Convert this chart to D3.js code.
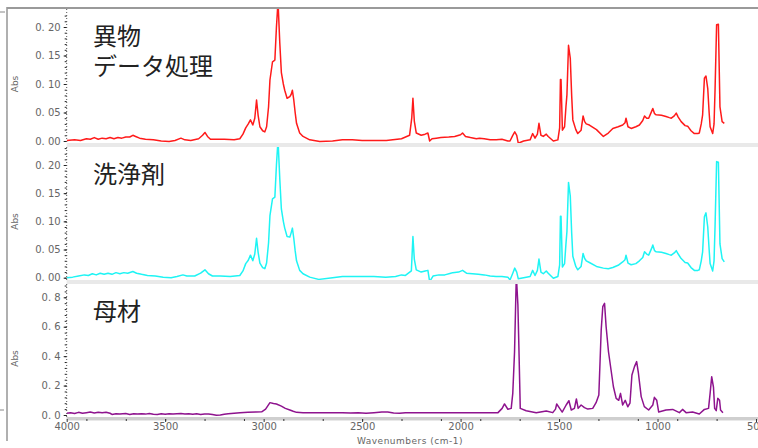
<!DOCTYPE html>
<html>
<head>
<meta charset="utf-8">
<script src="https://cdn.jsdelivr.net/npm/d3@7"></script>
<style>
  body { margin: 0; background: #fff; }
  .tick text { font-family: "DejaVu Sans", sans-serif; font-size: 10px; fill: #666; }
  .axisLabel { font-family: "DejaVu Sans", sans-serif; font-size: 9px; fill: #666; }
  .panelTitle { font-family: "Noto Sans CJK JP", sans-serif; font-size: 24px; fill: #222; }
</style>
</head>
<body>
<div id="chart"></div>
<script>
// Spectrum data (wavenumber cm-1, absorbance)
let wnForeign = [4000, 3960, 3930, 3900, 3880, 3860, 3840, 3820, 3800, 3780, 3760, 3740, 3720, 3700, 3680, 3664, 3650, 3630, 3600, 3560, 3520, 3480, 3450, 3420, 3400, 3370, 3330, 3310, 3298, 3285, 3270, 3240, 3200, 3150, 3121, 3105, 3091, 3078, 3067, 3055, 3045, 3036, 3028, 3019, 3005, 2994, 2985, 2975, 2968, 2955, 2943, 2935, 2927, 2918, 2910, 2900, 2893, 2881, 2867, 2860, 2854, 2847, 2840, 2833, 2817, 2800, 2766, 2715, 2650, 2600, 2550, 2500, 2450, 2377, 2300, 2259, 2248, 2242, 2235, 2225, 2200, 2180, 2166, 2157, 2145, 2123, 2100, 2060, 2030, 2000, 1990, 1975, 1950, 1920, 1904, 1880, 1850, 1819, 1790, 1760, 1749, 1735, 1725, 1715, 1707, 1680, 1647, 1634, 1622, 1610, 1602, 1592, 1580, 1565, 1555, 1529, 1506, 1497, 1493, 1490, 1483, 1472, 1465, 1460, 1452, 1443, 1436, 1430, 1415, 1405, 1388, 1378, 1370, 1362, 1346, 1310, 1275, 1250, 1227, 1200, 1177, 1165, 1160, 1150, 1134, 1110, 1092, 1075, 1066, 1055, 1045, 1030, 1024, 1015, 1007, 980, 957, 940, 930, 915, 905, 895, 880, 860, 847, 830, 813, 795, 788, 778, 771, 762, 754, 745, 738, 733, 720, 713, 708, 700, 691, 683, 672, 661];
let absForeign = [0.001, 0.002, 0.001, 0.004, 0.003, 0.006, 0.003, 0.005, 0.004, 0.006, 0.004, 0.006, 0.005, 0.007, 0.007, 0.010, 0.008, 0.005, 0.003, 0.002, 0.000, -0.001, 0.001, 0.005, 0.002, 0.001, 0.004, 0.010, 0.015, 0.008, 0.003, 0.003, 0.003, 0.002, 0.004, 0.012, 0.023, 0.030, 0.037, 0.028, 0.040, 0.072, 0.045, 0.025, 0.018, 0.016, 0.025, 0.060, 0.107, 0.139, 0.142, 0.200, 0.245, 0.172, 0.120, 0.100, 0.089, 0.075, 0.078, 0.082, 0.089, 0.072, 0.050, 0.031, 0.014, 0.008, 0.002, -0.001, 0.000, 0.002, 0.002, 0.001, 0.001, 0.001, 0.004, 0.010, 0.040, 0.075, 0.035, 0.014, 0.010, 0.012, 0.014, 0.000, 0.004, 0.005, 0.006, 0.007, 0.008, 0.011, 0.014, 0.008, 0.006, 0.004, 0.005, 0.004, 0.002, 0.002, 0.003, 0.000, 0.000, 0.010, 0.016, 0.010, -0.004, 0.000, 0.002, 0.013, 0.005, 0.012, 0.031, 0.010, 0.008, 0.012, 0.008, 0.000, 0.002, 0.023, 0.108, 0.108, 0.019, 0.025, 0.060, 0.081, 0.168, 0.145, 0.080, 0.037, 0.020, 0.013, 0.019, 0.044, 0.034, 0.030, 0.028, 0.020, 0.008, 0.014, 0.022, 0.025, 0.028, 0.032, 0.040, 0.025, 0.022, 0.025, 0.028, 0.036, 0.044, 0.040, 0.040, 0.052, 0.057, 0.048, 0.046, 0.045, 0.043, 0.041, 0.040, 0.044, 0.049, 0.042, 0.034, 0.027, 0.026, 0.018, 0.013, 0.013, 0.014, 0.030, 0.046, 0.110, 0.114, 0.092, 0.050, 0.025, 0.013, 0.030, 0.089, 0.204, 0.205, 0.060, 0.034, 0.031];

let wnCleaner = [4000, 3970, 3940, 3910, 3890, 3870, 3850, 3830, 3810, 3790, 3770, 3750, 3730, 3710, 3690, 3664, 3645, 3620, 3590, 3550, 3510, 3470, 3440, 3410, 3390, 3350, 3320, 3298, 3280, 3260, 3220, 3170, 3121, 3105, 3091, 3078, 3067, 3055, 3045, 3036, 3028, 3019, 3005, 2994, 2985, 2975, 2968, 2955, 2943, 2935, 2927, 2918, 2910, 2900, 2893, 2881, 2867, 2860, 2854, 2847, 2840, 2833, 2817, 2800, 2766, 2720, 2650, 2600, 2550, 2500, 2440, 2380, 2330, 2300, 2280, 2265, 2250, 2242, 2235, 2225, 2200, 2180, 2166, 2157, 2140, 2110, 2080, 2050, 2040, 2010, 1990, 1970, 1940, 1910, 1880, 1850, 1820, 1790, 1760, 1749, 1735, 1725, 1715, 1707, 1680, 1647, 1634, 1622, 1610, 1602, 1592, 1580, 1565, 1555, 1529, 1506, 1497, 1493, 1490, 1483, 1472, 1465, 1460, 1452, 1443, 1436, 1430, 1415, 1405, 1388, 1378, 1370, 1362, 1346, 1310, 1275, 1250, 1227, 1200, 1177, 1165, 1160, 1150, 1134, 1110, 1092, 1075, 1066, 1055, 1045, 1030, 1024, 1015, 1007, 980, 957, 940, 930, 915, 905, 895, 880, 860, 847, 830, 813, 795, 788, 778, 771, 762, 754, 745, 738, 733, 720, 713, 708, 700, 691, 683, 672, 661];
let absCleaner = [0.000, 0.001, 0.003, 0.005, 0.004, 0.007, 0.005, 0.008, 0.006, 0.008, 0.006, 0.009, 0.007, 0.009, 0.008, 0.011, 0.008, 0.006, 0.004, 0.003, 0.001, 0.000, 0.002, 0.005, 0.003, 0.003, 0.008, 0.014, 0.007, 0.003, 0.003, 0.002, 0.004, 0.012, 0.025, 0.031, 0.040, 0.030, 0.042, 0.070, 0.045, 0.026, 0.018, 0.016, 0.026, 0.062, 0.110, 0.140, 0.143, 0.200, 0.245, 0.175, 0.122, 0.100, 0.088, 0.073, 0.072, 0.080, 0.088, 0.070, 0.048, 0.030, 0.013, 0.007, 0.001, -0.003, 0.000, 0.002, 0.002, 0.002, 0.002, 0.001, 0.002, 0.005, 0.004, 0.008, 0.012, 0.073, 0.033, 0.014, 0.010, 0.012, 0.013, -0.007, 0.003, 0.005, 0.005, 0.008, 0.009, 0.010, 0.013, 0.008, 0.007, 0.006, 0.005, 0.003, 0.002, 0.002, 0.001, -0.004, 0.008, 0.017, 0.010, -0.002, 0.000, 0.002, 0.013, 0.004, 0.013, 0.033, 0.010, 0.007, 0.012, 0.008, -0.001, 0.002, 0.023, 0.109, 0.109, 0.019, 0.025, 0.060, 0.082, 0.169, 0.145, 0.080, 0.038, 0.020, 0.014, 0.020, 0.043, 0.034, 0.030, 0.027, 0.020, 0.017, 0.016, 0.018, 0.022, 0.028, 0.032, 0.040, 0.026, 0.023, 0.025, 0.030, 0.036, 0.046, 0.042, 0.040, 0.052, 0.058, 0.048, 0.046, 0.045, 0.043, 0.041, 0.040, 0.044, 0.048, 0.042, 0.034, 0.027, 0.026, 0.018, 0.013, 0.013, 0.014, 0.030, 0.046, 0.108, 0.115, 0.090, 0.050, 0.025, 0.012, 0.030, 0.090, 0.206, 0.205, 0.060, 0.034, 0.028];

let wnBase = [4000, 3980, 3960, 3940, 3920, 3900, 3880, 3860, 3840, 3820, 3800, 3780, 3770, 3750, 3730, 3700, 3680, 3660, 3640, 3620, 3600, 3580, 3560, 3540, 3520, 3500, 3480, 3460, 3440, 3420, 3400, 3380, 3360, 3340, 3320, 3300, 3280, 3260, 3240, 3220, 3200, 3180, 3150, 3120, 3080, 3040, 3010, 2990, 2968, 2950, 2935, 2910, 2890, 2867, 2850, 2833, 2800, 2700, 2600, 2560, 2520, 2480, 2440, 2400, 2370, 2340, 2310, 2280, 2200, 2100, 2000, 1900, 1810, 1789, 1777, 1760, 1743, 1735, 1726, 1717, 1709, 1704, 1697, 1667, 1616, 1565, 1532, 1518, 1512, 1497, 1484, 1464, 1450, 1438, 1422, 1412, 1403, 1388, 1371, 1354, 1329, 1312, 1298, 1286, 1278, 1269, 1261, 1249, 1236, 1224, 1210, 1197, 1188, 1177, 1164, 1151, 1140, 1130, 1117, 1106, 1097, 1083, 1067, 1045, 1024, 1016, 1004, 994, 957, 923, 889, 873, 855, 822, 788, 762, 741, 733, 725, 716, 710, 702, 694, 685, 680, 668];
let absBase = [0.012, 0.015, 0.010, 0.018, 0.012, 0.016, 0.020, 0.014, 0.018, 0.015, 0.019, 0.012, 0.004, 0.008, 0.006, 0.010, 0.004, 0.009, 0.006, 0.008, 0.006, 0.010, 0.005, 0.004, 0.008, 0.005, 0.009, 0.006, 0.008, 0.010, 0.007, 0.009, 0.005, 0.008, 0.004, 0.007, 0.006, 0.003, -0.002, 0.000, 0.005, 0.008, 0.012, 0.015, 0.018, 0.020, 0.022, 0.040, 0.084, 0.078, 0.075, 0.060, 0.045, 0.034, 0.025, 0.018, 0.016, 0.016, 0.016, 0.013, 0.015, 0.012, 0.016, 0.020, 0.020, 0.014, 0.012, 0.016, 0.016, 0.016, 0.016, 0.016, 0.016, 0.045, 0.075, 0.039, 0.045, 0.147, 0.430, 0.950, 0.748, 0.464, 0.045, 0.029, 0.016, 0.027, 0.016, 0.040, 0.075, 0.045, 0.020, 0.068, 0.097, 0.034, 0.045, 0.109, 0.045, 0.068, 0.050, 0.040, 0.045, 0.084, 0.136, 0.578, 0.736, 0.759, 0.600, 0.430, 0.306, 0.192, 0.113, 0.100, 0.147, 0.068, 0.100, 0.056, 0.080, 0.272, 0.329, 0.363, 0.284, 0.125, 0.057, 0.034, 0.068, 0.120, 0.100, 0.020, 0.034, 0.038, 0.016, 0.038, 0.016, 0.020, 0.007, 0.038, 0.045, 0.147, 0.260, 0.190, 0.045, 0.030, 0.113, 0.100, 0.034, 0.016];

// Axis ticks
let xTicks = [4000, 3500, 3000, 2500, 2000, 1500, 1000, 500];
let yTicksSmall = [0, 0.05, 0.10, 0.15, 0.20];
let yTicksLarge = [0, 0.2, 0.4, 0.6, 0.8];

let svgWidth = 758;
let svgHeight = 448;
let plotLeft = 66.7;
let plotRight = 756;

let svg = d3.select('#chart')
    .append('svg')
    .attr('width', svgWidth)
    .attr('height', svgHeight);

let xScale = d3.scaleLinear()
    .domain([4000, 500])
    .range([plotLeft, plotRight]);

// Panel settings: top/bottom of plot area and the y range
let panels = [
    { id: 'p1', wn: wnForeign, abs: absForeign, color: '#ff1a1a', top: 9, bottom: 143,
      domain: [0, 0.2], range: [141, 27], ticks: yTicksSmall, fmt: '.2f', minor: 0.01,
      title: ['異物', 'データ処理'] },
    { id: 'p2', wn: wnCleaner, abs: absCleaner, color: '#1ef4f4', top: 147, bottom: 280,
      domain: [0, 0.2], range: [277.7, 165], ticks: yTicksSmall, fmt: '.2f', minor: 0.01,
      title: ['洗浄剤'] },
    { id: 'p3', wn: wnBase, abs: absBase, color: '#8e138e', top: 284, bottom: 417,
      domain: [0, 0.8], range: [415, 297.3], ticks: yTicksLarge, fmt: '.1f', minor: 0.04,
      title: ['母材'] }
];

// Outer frame lines
svg.append('line')
    .attr('x1', 7).attr('x2', 7).attr('y1', 7).attr('y2', 441)
    .attr('stroke', '#b0b0b0').attr('stroke-width', 2);
svg.append('line')
    .attr('x1', 7).attr('x2', svgWidth).attr('y1', 8).attr('y2', 8)
    .attr('stroke', '#9a9a9a').attr('stroke-width', 2);
svg.append('line')
    .attr('x1', 0).attr('x2', 5).attr('y1', 12).attr('y2', 12)
    .attr('stroke', '#888');
svg.append('line')
    .attr('x1', 0).attr('x2', 4).attr('y1', 410).attr('y2', 410)
    .attr('stroke', '#888');

panels.forEach(p => {
    let yScale = d3.scaleLinear()
        .domain(p.domain)
        .range(p.range);

    // Light grey strip under each panel
    svg.append('rect')
        .attr('x', plotLeft)
        .attr('y', p.bottom)
        .attr('width', svgWidth - plotLeft)
        .attr('height', 4)
        .attr('fill', '#e9e9e9');

    // Clip the trace to the plot area
    svg.append('clipPath')
        .attr('id', 'clip-' + p.id)
        .append('rect')
        .attr('x', plotLeft)
        .attr('y', p.top)
        .attr('width', plotRight - plotLeft)
        .attr('height', p.bottom - p.top);

    // Minor ticks (dotted look of the axis)
    let minorVals = d3.range(p.domain[0], p.domain[1] + p.minor * 3.5, p.minor)
        .filter(v => yScale(v) >= p.top + 1);
    svg.append('g')
        .attr('transform', `translate(${plotLeft}, 0)`)
        .call(d3.axisLeft(yScale).tickValues(minorVals).tickSize(2).tickFormat(''))
        .call(g => g.select('.domain').remove())
        .call(g => g.selectAll('line').attr('stroke', '#222'));

    // Y axis with labels
    let yAxis = svg.append('g')
        .attr('transform', `translate(${plotLeft}, 0)`)
        .call(d3.axisLeft(yScale).tickValues(p.ticks).tickSize(3).tickPadding(3).tickFormat(d3.format(p.fmt)));
    yAxis.select('.domain').remove();
    yAxis.selectAll('line').attr('stroke', '#222');
    yAxis.selectAll('text').text(function() {
        return d3.select(this).text().replace('.', '. ');
    });

    svg.append('line')
        .attr('x1', plotLeft).attr('x2', plotLeft)
        .attr('y1', p.top).attr('y2', p.bottom)
        .attr('stroke', '#555')
        .attr('stroke-dasharray', '1,2');

    // "Abs" label
    svg.append('text')
        .attr('class', 'axisLabel')
        .attr('transform', `translate(18, ${(p.top + p.bottom) / 2 + 8}) rotate(-90)`)
        .attr('text-anchor', 'middle')
        .text('Abs');

    // Spectrum trace
    let line = d3.line()
        .x(d => xScale(d[0]))
        .y(d => yScale(d[1]));

    svg.append('path')
        .datum(d3.zip(p.wn, p.abs))
        .attr('clip-path', `url(#clip-${p.id})`)
        .attr('fill', 'none')
        .attr('stroke', p.color)
        .attr('stroke-width', 1.5)
        .attr('stroke-linejoin', 'round')
        .attr('d', line);

    // Japanese panel title
    p.title.forEach((t, i) => {
        svg.append('text')
            .attr('class', 'panelTitle')
            .attr('x', 93)
            .attr('y', p.top + 36 + i * 30)
            .text(t);
    });
});

// Bottom wavenumber axis
svg.append('rect')
    .attr('x', plotLeft)
    .attr('y', 417)
    .attr('width', svgWidth - plotLeft)
    .attr('height', 3)
    .attr('fill', '#cfcfcf');

svg.append('g')
    .attr('transform', 'translate(0, 419)')
    .call(d3.axisBottom(xScale).tickValues(d3.range(3900, 500, -200)).tickSize(2).tickFormat(''))
    .call(g => g.select('.domain').remove())
    .call(g => g.selectAll('line').attr('stroke', '#333'));

let xAxis = svg.append('g')
    .attr('transform', 'translate(0, 419)')
    .call(d3.axisBottom(xScale).tickValues(xTicks).tickSize(3).tickPadding(1).tickFormat(d3.format('d')));
xAxis.select('.domain').remove();
xAxis.selectAll('line').attr('stroke', '#333');

svg.append('text')
    .attr('class', 'axisLabel')
    .attr('x', 410)
    .attr('y', 444)
    .attr('text-anchor', 'middle')
    .attr('letter-spacing', '0.5')
    .text('Wavenumbers (cm-1)');
</script>
</body>
</html>
